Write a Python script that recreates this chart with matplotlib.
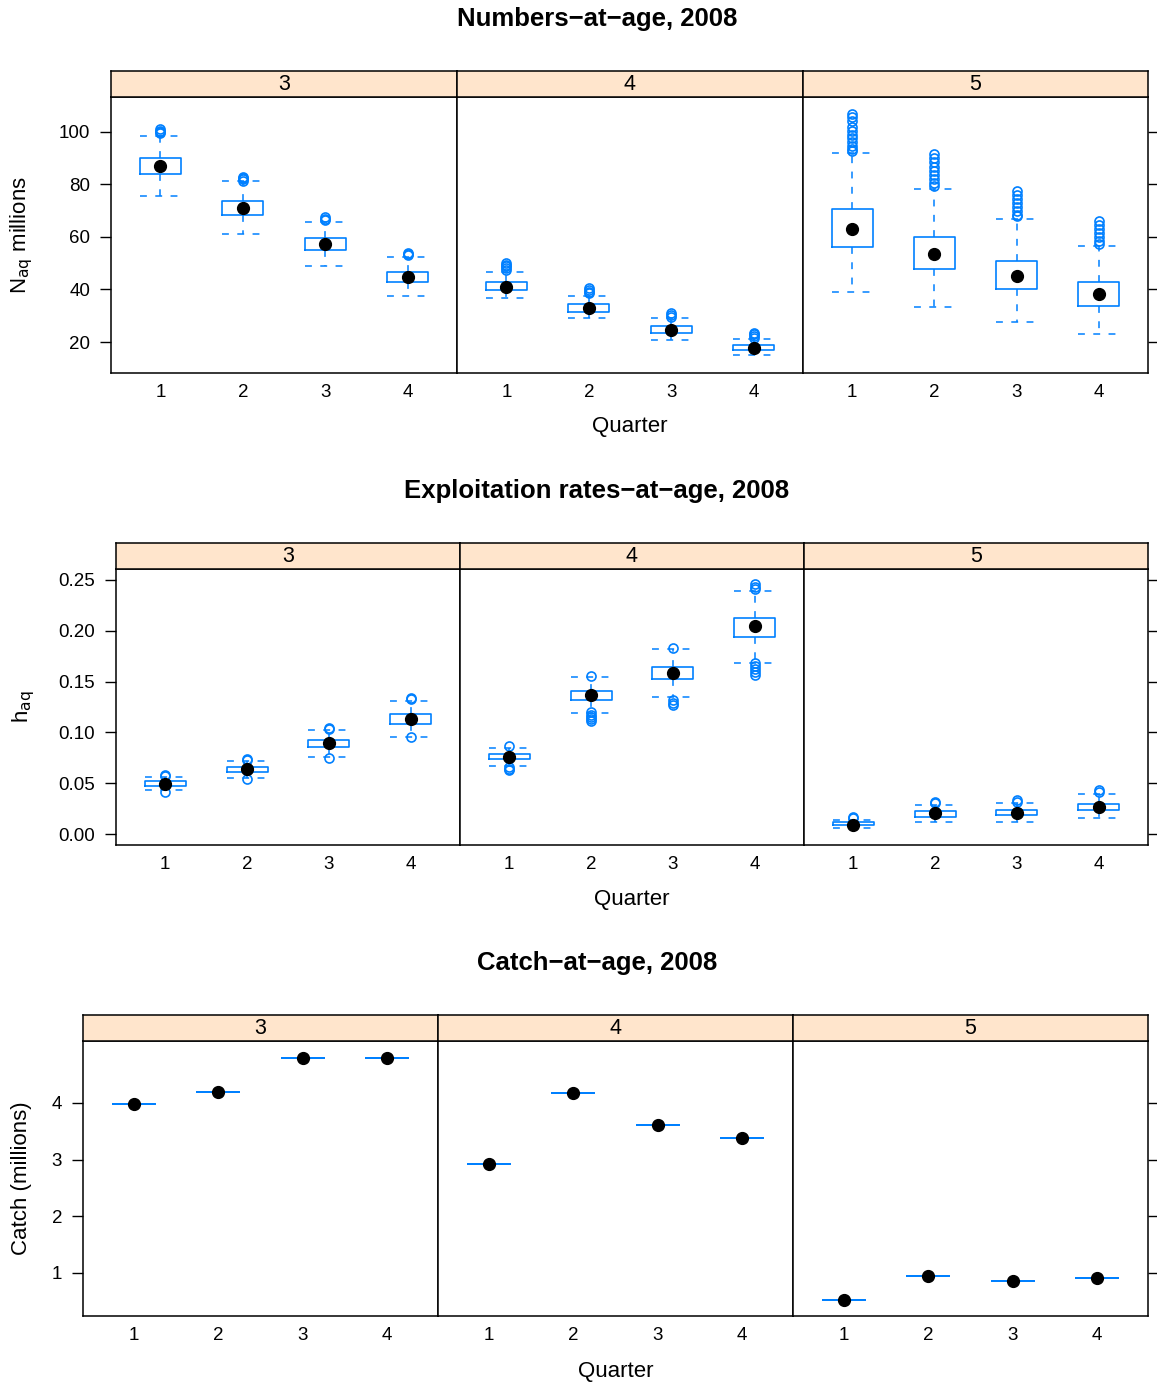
import matplotlib
matplotlib.use("Agg")
import matplotlib.pyplot as plt

plt.rcParams["font.family"] = ["Liberation Sans", "DejaVu Sans"]

W, H = 1157, 1384
BLUE = "#0080ff"
STRIP = "#ffe5cc"

quarters = [1, 2, 3, 4]
ages = ["3", "4", "5"]

# Numbers-at-age (millions), one list per age, one value per quarter
n_whislo = [[75.6, 61.3, 49.1, 37.6], [36.8, 29.1, 20.8, 15.0], [39.2, 33.2, 27.7, 23.0]]
n_q1 = [[84.0, 68.5, 55.0, 43.0], [39.8, 31.4, 23.4, 17.0], [56.1, 47.8, 40.1, 33.7]]
n_med = [[87.0, 70.9, 57.2, 44.9], [41.0, 33.0, 24.6, 17.8], [62.9, 53.6, 45.3, 38.2]]
n_q3 = [[90.1, 73.7, 59.5, 46.8], [42.9, 34.5, 26.1, 18.9], [70.6, 60.1, 50.9, 43.0]]
n_whishi = [[98.6, 81.2, 65.8, 52.5], [46.7, 37.5, 29.1, 21.1], [91.9, 78.4, 66.7, 56.7]]
n_fliers = [
    [[99.5, 100.0, 100.5, 101.0], [81.5, 82.0, 82.5, 83.0], [66.5, 67.0, 67.5], [53.0, 53.5, 54.0]],
    [[47.5, 48.0, 49.0, 49.5, 50.0], [38.5, 39.0, 39.8, 40.5], [29.5, 30.2, 31.0], [21.5, 22.3, 23.0, 23.5]],
    [[92.8, 93.5, 94.5, 96.0, 97.5, 99.0, 100.5, 102.0, 104.0, 105.5, 107.0],
     [79.5, 80.5, 82.0, 83.5, 85.0, 86.5, 88.5, 90.0, 91.5],
     [67.8, 68.5, 70.0, 71.5, 73.0, 74.5, 76.0, 77.5],
     [57.5, 58.5, 60.0, 61.5, 63.0, 64.5, 66.0]],
]

# Exploitation rates-at-age
h_whislo = [[0.0433, 0.0548, 0.0758, 0.0958], [0.0669, 0.1191, 0.1348, 0.1686], [0.0062, 0.0118, 0.0121, 0.0155]]
h_q1 = [[0.0477, 0.0610, 0.0856, 0.1083], [0.0735, 0.1316, 0.1522, 0.1942], [0.0085, 0.0170, 0.0184, 0.0236]]
h_med = [[0.0497, 0.0637, 0.0892, 0.1129], [0.0761, 0.1365, 0.1581, 0.2047], [0.0092, 0.0203, 0.0210, 0.0263]]
h_q3 = [[0.0519, 0.0660, 0.0922, 0.1178], [0.0787, 0.1410, 0.1644, 0.2123], [0.0115, 0.0223, 0.0233, 0.0298]]
h_whishi = [[0.0561, 0.0722, 0.1020, 0.1309], [0.0850, 0.1542, 0.1818, 0.2389], [0.0138, 0.0289, 0.0302, 0.0390]]
h_fliers = [
    [[0.0415, 0.0575, 0.0582], [0.0538, 0.0730, 0.0738], [0.0752, 0.1030, 0.1040], [0.0950, 0.1325, 0.1335]],
    [[0.0630, 0.0642, 0.0655, 0.0866], [0.111, 0.113, 0.115, 0.117, 0.120, 0.1555],
     [0.127, 0.129, 0.132, 0.1835], [0.156, 0.159, 0.162, 0.165, 0.168, 0.241, 0.243, 0.246]],
    [[0.0155, 0.0168], [0.0305, 0.0318], [0.0320, 0.0335], [0.0418, 0.0433]],
]

# Catch-at-age (millions)
catch = [[3.98, 4.19, 4.79, 4.80], [2.92, 4.18, 3.61, 3.38], [0.52, 0.95, 0.86, 0.91]]

rows = [
    dict(title="Numbers\u2212at\u2212age, 2008", ylabel=r"N$_{\mathrm{aq}}$ millions",
         lo=n_whislo, q1=n_q1, med=n_med, q3=n_q3, hi=n_whishi, fl=n_fliers,
         ylim=(8.2, 113.3), yticks=[20, 40, 60, 80, 100], fmt="{:g}",
         xs=[111, 457, 803, 1148], top=97, bot=373, title_y=19, xlab_y=427, ylab_x=22),
    dict(title="Exploitation rates\u2212at\u2212age, 2008", ylabel=r"h$_{\mathrm{aq}}$",
         lo=h_whislo, q1=h_q1, med=h_med, q3=h_q3, hi=h_whishi, fl=h_fliers,
         ylim=(-0.0108, 0.2608), yticks=[0.0, 0.05, 0.10, 0.15, 0.20, 0.25], fmt="{:.2f}",
         xs=[116, 460, 804, 1148], top=569, bot=845, title_y=491, xlab_y=899, ylab_x=24),
    dict(title="Catch\u2212at\u2212age, 2008", ylabel="Catch (millions)",
         lo=catch, q1=catch, med=catch, q3=catch, hi=catch, fl=[[[]] * 4] * 3,
         ylim=(0.241, 5.094), yticks=[1, 2, 3, 4], fmt="{:g}",
         xs=[83, 438, 793, 1148], top=1041, bot=1316, title_y=963, xlab_y=1371, ylab_x=22),
]

fig = plt.figure(figsize=(W / 100, H / 100), dpi=100)
dash = (0, (4.5, 5.5))

for row in rows:
    for j, age in enumerate(ages):
        x0, x1 = row["xs"][j], row["xs"][j + 1]
        ax = fig.add_axes([x0 / W, 1 - row["bot"] / H, (x1 - x0) / W, (row["bot"] - row["top"]) / H])
        stats = []
        for k in range(4):
            stats.append(dict(whislo=row["lo"][j][k], q1=row["q1"][j][k], med=row["med"][j][k],
                              q3=row["q3"][j][k], whishi=row["hi"][j][k], fliers=row["fl"][j][k]))
        ax.bxp(stats, positions=quarters, widths=0.5, capwidths=0.5, manage_ticks=False,
               boxprops=dict(color=BLUE, linewidth=1.2),
               whiskerprops=dict(color=BLUE, linewidth=1.1, linestyle=dash),
               capprops=dict(color=BLUE, linewidth=1.1, linestyle=dash),
               medianprops=dict(linewidth=0),
               flierprops=dict(marker="o", markerfacecolor="none", markeredgecolor=BLUE,
                               markersize=6.5, markeredgewidth=1.2))
        ax.plot(quarters, row["med"][j], "o", color="black", markersize=8.5, zorder=5)
        ax.set_xlim(0.4, 4.6)
        ax.set_ylim(*row["ylim"])
        ax.set_xticks(quarters)
        ax.set_xticklabels([str(q) for q in quarters])
        ax.set_yticks(row["yticks"])
        ax.tick_params(axis="x", length=0, pad=8, labelsize=13.5)
        ax.tick_params(axis="y", direction="out", length=8, width=1, pad=7, labelsize=13.5)
        if j == 0:
            ax.set_yticklabels([row["fmt"].format(v) for v in row["yticks"]])
        elif j == 2:
            ax.yaxis.tick_right()
            ax.set_yticklabels([])
        else:
            ax.tick_params(axis="y", length=0, labelleft=False)
        for s in ax.spines.values():
            s.set_linewidth(1.1)

        sax = fig.add_axes([x0 / W, 1 - row["top"] / H, (x1 - x0) / W, 26 / H])
        sax.set_facecolor(STRIP)
        sax.set_xticks([])
        sax.set_yticks([])
        for s in sax.spines.values():
            s.set_linewidth(1.1)
        sax.text(0.5, 0.47, age, ha="center", va="center", fontsize=15.5, transform=sax.transAxes)

    xc = (row["xs"][0] + row["xs"][-1]) / 2
    fig.text(597 / W, 1 - row["title_y"] / H, row["title"], ha="center", va="center",
             fontsize=18.5, fontweight="bold")
    fig.text(xc / W, 1 - row["xlab_y"] / H, "Quarter", ha="center", va="center", fontsize=16)
    yc = (row["top"] + row["bot"]) / 2
    fig.text(row["ylab_x"] / W, 1 - yc / H, row["ylabel"], ha="center", va="center",
             rotation=90, fontsize=16)

fig.savefig("out.png", dpi=100)
